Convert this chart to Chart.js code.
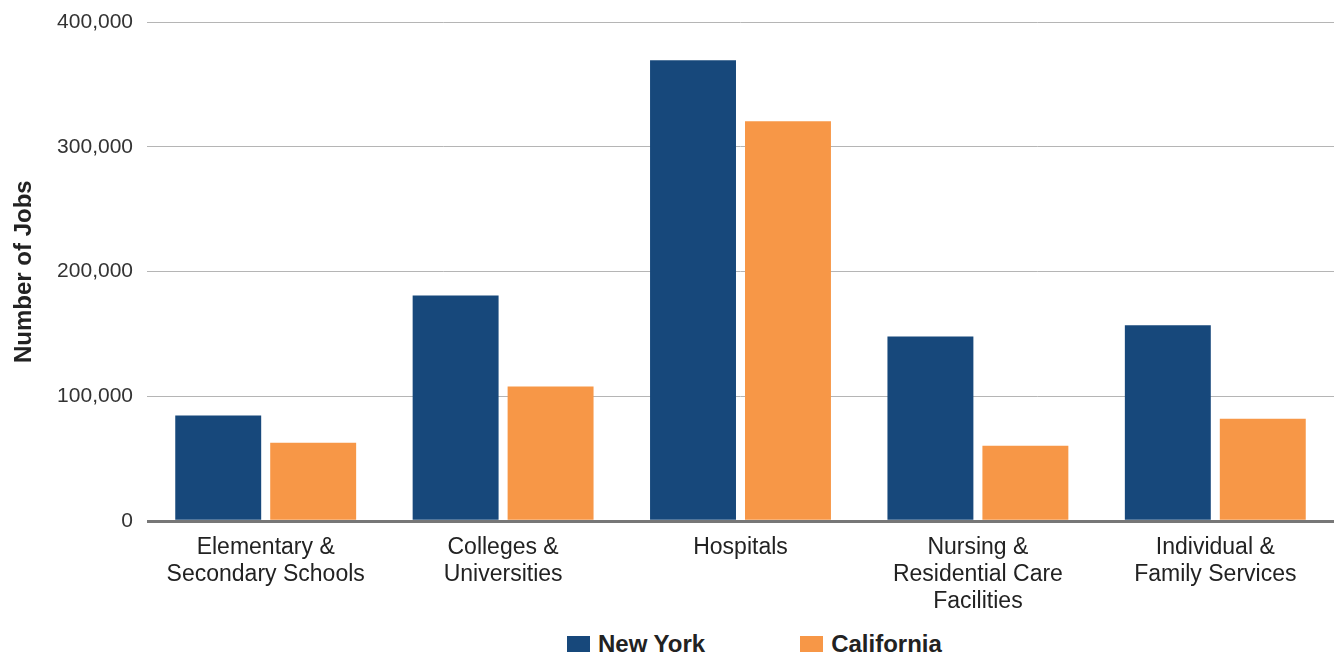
<!DOCTYPE html>
<html>
<head>
<meta charset="utf-8">
<script src="https://cdn.jsdelivr.net/npm/chart.js@4"></script>
<style>
  html, body { margin: 0; padding: 0; background: #fff; }
  #wrap { position: relative; width: 1334px; height: 658px; }
  #chartBox { position: absolute; left: 0; top: 0; width: 1334px; height: 628px; }
  #legend {
    position: absolute; left: 567px; top: 630px;
    display: flex; gap: 95px;
    font-family: "Liberation Sans", Arial, sans-serif; font-weight: bold;
    font-size: 24px; color: #222;
  }
  .item { display: flex; align-items: center; }
  .swatch { width: 23px; height: 16px; margin-right: 8px; }
</style>
</head>
<body>
<div id="wrap">
  <div id="chartBox"><canvas id="jobsChart"></canvas></div>
  <div id="legend"></div>
</div>
<script>
const categories = [
  ["Elementary &", "Secondary Schools"],
  ["Colleges &", "Universities"],
  ["Hospitals"],
  ["Nursing &", "Residential Care", "Facilities"],
  ["Individual &", "Family Services"]
];
const seriesNames = ["New York", "California"];
const seriesColors = ["#17487b", "#f79747"];
const newYork = [84800, 180800, 369300, 148000, 157000];
const california = [62900, 107900, 320400, 60500, 82200];
const yTicks = [0, 100000, 200000, 300000, 400000];

const fontFamily = '"Liberation Sans", Arial, sans-serif';

const datasets = [newYork, california].map((vals, i) => ({
  label: seriesNames[i],
  data: vals,
  backgroundColor: seriesColors[i],
  borderWidth: 0,
  categoryPercentage: 0.8,
  barPercentage: 0.905
}));

// legend drawn as html under the canvas
const legend = document.getElementById("legend");
datasets.forEach(ds => {
  const item = document.createElement("div");
  item.className = "item";
  item.innerHTML = `<span class="swatch" style="background:${ds.backgroundColor}"></span>${ds.label}`;
  legend.appendChild(item);
});

const ctx = document.getElementById("jobsChart").getContext("2d");
new Chart(ctx, {
  type: "bar",
  data: { labels: categories, datasets: datasets },
  options: {
    responsive: true,
    maintainAspectRatio: false,
    animation: false,
    layout: { padding: { top: 22, right: 0, bottom: 0, left: 0 } },
    plugins: {
      legend: { display: false },
      tooltip: { enabled: false }
    },
    scales: {
      x: {
        grid: { display: false, drawTicks: false },
        border: { display: false },
        ticks: {
          color: "#222",
          padding: 13,
          maxRotation: 0,
          autoSkip: false,
          font: { family: fontFamily, size: 23, lineHeight: 1.17 }
        }
      },
      y: {
        min: 0,
        max: 400000,
        afterBuildTicks: axis => { axis.ticks = yTicks.map(v => ({ value: v })); },
        afterFit: axis => {
          axis.width = 147;
          axis.paddingTop = 0; // top gap comes from layout padding only
        },
        border: { display: false },
        grid: {
          drawTicks: false,
          color: c => (c.tick && c.tick.value === 0 ? "#777777" : "#b5b5b5"),
          lineWidth: c => (c.tick && c.tick.value === 0 ? 3 : 1)
        },
        ticks: {
          color: "#333",
          padding: 14,
          font: { family: fontFamily, size: 21 },
          callback: v => v.toLocaleString("en-US")
        },
        title: {
          display: true,
          text: "Number of Jobs",
          color: "#222",
          padding: { top: 10, bottom: 0 },
          font: { family: fontFamily, size: 24, weight: "bold" }
        }
      }
    }
  }
});
</script>
</body>
</html>
